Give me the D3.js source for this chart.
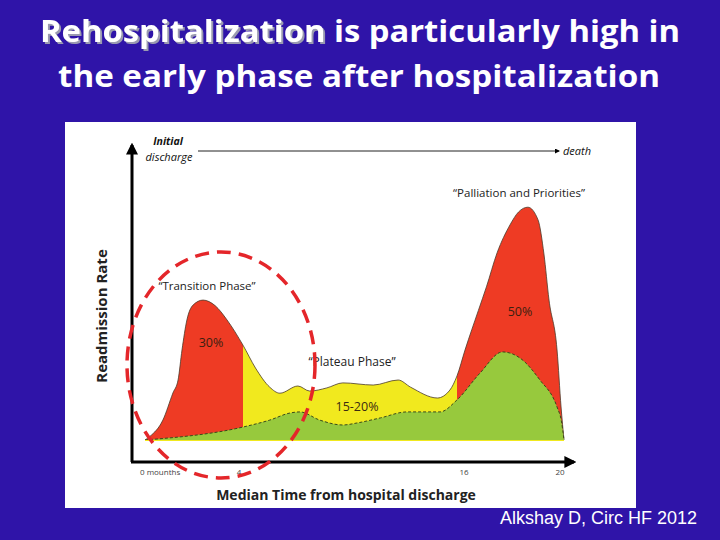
<!DOCTYPE html>
<html>
<head>
<meta charset="utf-8">
<script src="https://cdn.jsdelivr.net/npm/d3@7"></script>
<style>
  body { margin: 0; background: #2f14a8; }
  svg { display: block; }
</style>
</head>
<body>
<svg id="chart" width="720" height="540"></svg>
<script>
// months (schematic axis) and readmission rate (arbitrary units)
var months = [0, 0.2, 0.73, 1.14, 1.35, 1.51, 1.71, 1.96, 2.37, 2.86, 3.35, 4, 4.7, 5.5, 6.07, 7.08, 7.74, 8.7, 9.6, 11.3, 12.7, 13.4, 14.9, 15.6, 16, 16.3, 16.8, 17.1, 17.5, 17.98, 18.3, 18.65, 19.03, 19.25, 19.44, 19.74, 19.89, 20];
var totalRate = [0, 1.5, 8.3, 19.6, 25, 37.5, 50, 56.2, 58.3, 56, 50, 39.5, 30, 22, 19.5, 22.5, 20.4, 21.7, 23.8, 22.9, 25, 22, 17.5, 20.8, 26.7, 37.5, 54, 63.8, 78, 89.6, 95, 97, 91.7, 77.5, 58.3, 37.5, 13.75, 0];

var baseMonths = [0, 4, 5.5, 6.64, 7.2, 8.3, 9.6, 10.4, 11.7, 13.2, 15.05, 16, 16.86, 17.7, 18.35, 19.1, 19.74, 19.9, 20];
var baseRate = [0, 5.4, 8.3, 11.25, 11.7, 8.3, 6.25, 7.1, 9.2, 11.7, 11.7, 16.7, 27.9, 36.7, 34.2, 25, 13.75, 8, 0];

var phases = [
  {from: 0, to: 4, color: "#ee3b24"},
  {from: 4, to: 16, color: "#f1e91e"},
  {from: 16, to: 20, color: "#ee3b24"}
];
var tickMonths = [0, 4, 16, 20];
var tickLabels = ["0   mounths", "4", "16", "20"];

var svg = d3.select("#chart");
var defs = svg.append("defs");

// title
var shadow = defs.append("filter").attr("id", "shadow").attr("x", "-5%").attr("y", "-20%")
  .attr("width", "115%").attr("height", "150%");
shadow.append("feDropShadow").attr("dx", 2).attr("dy", 2).attr("stdDeviation", 0.6)
  .attr("flood-color", "#9a9ab0").attr("flood-opacity", 1);

var titleLines = ["Rehospitalization is particularly high in", "the early phase after hospitalization"];
var title = svg.append("g").style("font-family", "'Open Sans', sans-serif")
  .style("font-weight", "bold").style("font-size", "31px").attr("fill", "#fff");
var probe = title.append("text").attr("x", 0).attr("y", -50).text(titleLines[0]);
var W = probe.node().getComputedTextLength();
var w1 = probe.node().getSubStringLength(0, 17);
var w18 = probe.node().getSubStringLength(0, 18);
probe.remove();
var k = 640 / W;
title.append("text").attr("x", 40).attr("y", 42).attr("textLength", w1 * k)
  .attr("lengthAdjust", "spacingAndGlyphs").attr("filter", "url(#shadow)").text("Rehospitalization");
title.append("text").attr("x", 40 + w18 * k).attr("y", 42).attr("textLength", (W - w18) * k)
  .attr("lengthAdjust", "spacingAndGlyphs").text("is particularly high in");
title.append("text").attr("x", 58).attr("y", 87).attr("textLength", 602)
  .attr("lengthAdjust", "spacingAndGlyphs").text(titleLines[1]);

// white panel
svg.append("rect").attr("x", 65).attr("y", 122).attr("width", 571).attr("height", 386).attr("fill", "#fff");

var x = d3.scaleLinear().domain([0, 4, 16, 20]).range([145, 243, 457, 564]);
var y = d3.scaleLinear().domain([0, 100]).range([440, 200]);

var total = months.map(function (m, i) { return {m: m, v: totalRate[i]}; });
var base = baseMonths.map(function (m, i) { return {m: m, v: baseRate[i]}; });

phases.forEach(function (p, i) {
  defs.append("clipPath").attr("id", "ph" + i).append("rect")
    .attr("x", x(p.from)).attr("y", 150).attr("width", x(p.to) - x(p.from)).attr("height", 300);
});
defs.append("marker").attr("id", "arr").attr("viewBox", "0 0 10 10").attr("refX", 8).attr("refY", 5)
  .attr("markerWidth", 5).attr("markerHeight", 5).attr("orient", "auto")
  .append("path").attr("d", "M0,0L10,5L0,10z").attr("fill", "#000");
defs.append("marker").attr("id", "arrBig").attr("viewBox", "0 0 10 10").attr("refX", 8).attr("refY", 5)
  .attr("markerWidth", 4).attr("markerHeight", 4).attr("orient", "auto")
  .append("path").attr("d", "M0,0L10,5L0,10z").attr("fill", "#000");

var area = d3.area().x(function (d) { return x(d.m); }).y0(y(0)).y1(function (d) { return y(d.v); })
  .curve(d3.curveMonotoneX);
var line = d3.line().x(function (d) { return x(d.m); }).y(function (d) { return y(d.v); })
  .curve(d3.curveMonotoneX);

phases.forEach(function (p, i) {
  svg.append("path").datum(total).attr("d", area).attr("fill", p.color).attr("clip-path", "url(#ph" + i + ")");
});
svg.append("path").datum(total).attr("d", line).attr("fill", "none").attr("stroke", "#4a3a2a").attr("stroke-width", 0.8);
svg.append("path").datum(base).attr("d", area).attr("fill", "#97c93d");
svg.append("path").datum(base).attr("d", line).attr("fill", "none").attr("stroke", "#3a4a1a")
  .attr("stroke-width", 1).attr("stroke-dasharray", "3,2");
svg.append("line").attr("x1", x(0)).attr("x2", x(20)).attr("y1", y(0) + 0.5).attr("y2", y(0) + 0.5)
  .attr("stroke", "#f1e91e").attr("stroke-width", 1);

// axes
svg.append("line").attr("x1", 132).attr("y1", 462).attr("x2", 132).attr("y2", 145)
  .attr("stroke", "#000").attr("stroke-width", 3).attr("marker-end", "url(#arrBig)");
svg.append("line").attr("x1", 131).attr("y1", 462).attr("x2", 574).attr("y2", 462)
  .attr("stroke", "#000").attr("stroke-width", 3).attr("marker-end", "url(#arrBig)");

svg.selectAll("text.tick").data(tickMonths).enter().append("text").attr("class", "tick")
  .attr("x", function (d, i) { return i === 0 ? x(d) - 5 : x(d) + (i === 2 ? 7 : -4); })
  .attr("y", 475)
  .attr("text-anchor", function (d, i) { return i === 0 ? "start" : "middle"; })
  .style("font-family", "'Open Sans', sans-serif").style("font-size", "8px").attr("fill", "#444")
  .text(function (d, i) { return tickLabels[i]; });

// top timeline
svg.append("line").attr("x1", 198).attr("y1", 151).attr("x2", 559).attr("y2", 151)
  .attr("stroke", "#222").attr("stroke-width", 1).attr("marker-end", "url(#arr)");
var it = svg.append("g").style("font-family", "'Open Sans', sans-serif").style("font-style", "italic")
  .style("font-size", "11px").attr("fill", "#111");
it.append("text").attr("x", 168).attr("y", 145).attr("text-anchor", "middle").style("font-weight", "bold").style("font-size", "10.5px").text("Initial");
it.append("text").attr("x", 169).attr("y", 161).attr("text-anchor", "middle").text("discharge");
it.append("text").attr("x", 563).attr("y", 155).text("death");

// annotations
var ann = svg.append("g").style("font-family", "'Open Sans', sans-serif").style("font-size", "11.5px").attr("fill", "#222");
ann.append("text").attr("x", 207).attr("y", 290).attr("text-anchor", "middle").text("\u201cTransition Phase\u201d");
ann.append("text").attr("x", 519).attr("y", 197).attr("text-anchor", "middle").text("\u201cPalliation and Priorities\u201d");
ann.append("text").attr("x", 352).attr("y", 366).attr("text-anchor", "middle").style("font-size", "12px").text("\u201cPlateau Phase\u201d");
ann.append("text").attr("x", 211).attr("y", 347).attr("text-anchor", "middle").style("font-size", "12.5px").attr("fill", "#3a2010").text("30%");
ann.append("text").attr("x", 520).attr("y", 316).attr("text-anchor", "middle").style("font-size", "12.5px").attr("fill", "#3a2010").text("50%");
ann.append("text").attr("x", 357).attr("y", 411).attr("text-anchor", "middle").style("font-size", "12.5px").attr("fill", "#3a2a10").text("15-20%");

// axis titles
svg.append("text").attr("transform", "translate(107,316) rotate(-90)").attr("text-anchor", "middle")
  .style("font-family", "'Open Sans', sans-serif").style("font-weight", "bold").style("font-size", "15px")
  .attr("fill", "#222").text("Readmission Rate");
svg.append("text").attr("x", 346).attr("y", 500).attr("text-anchor", "middle")
  .style("font-family", "'Open Sans', sans-serif").style("font-weight", "bold").style("font-size", "14px")
  .attr("fill", "#222").text("Median Time from hospital discharge");

// transition phase highlight
svg.append("ellipse").attr("cx", 221).attr("cy", 365).attr("rx", 94).attr("ry", 113)
  .attr("fill", "none").attr("stroke", "#e4262a").attr("stroke-width", 3.5).attr("stroke-dasharray", "14,8");

// citation
svg.append("text").attr("x", 697).attr("y", 524).attr("text-anchor", "end")
  .style("font-family", "'Liberation Sans', Arial, sans-serif").style("font-size", "18px")
  .attr("fill", "#fff").text("Alkshay D, Circ HF 2012");
</script>
</body>
</html>
